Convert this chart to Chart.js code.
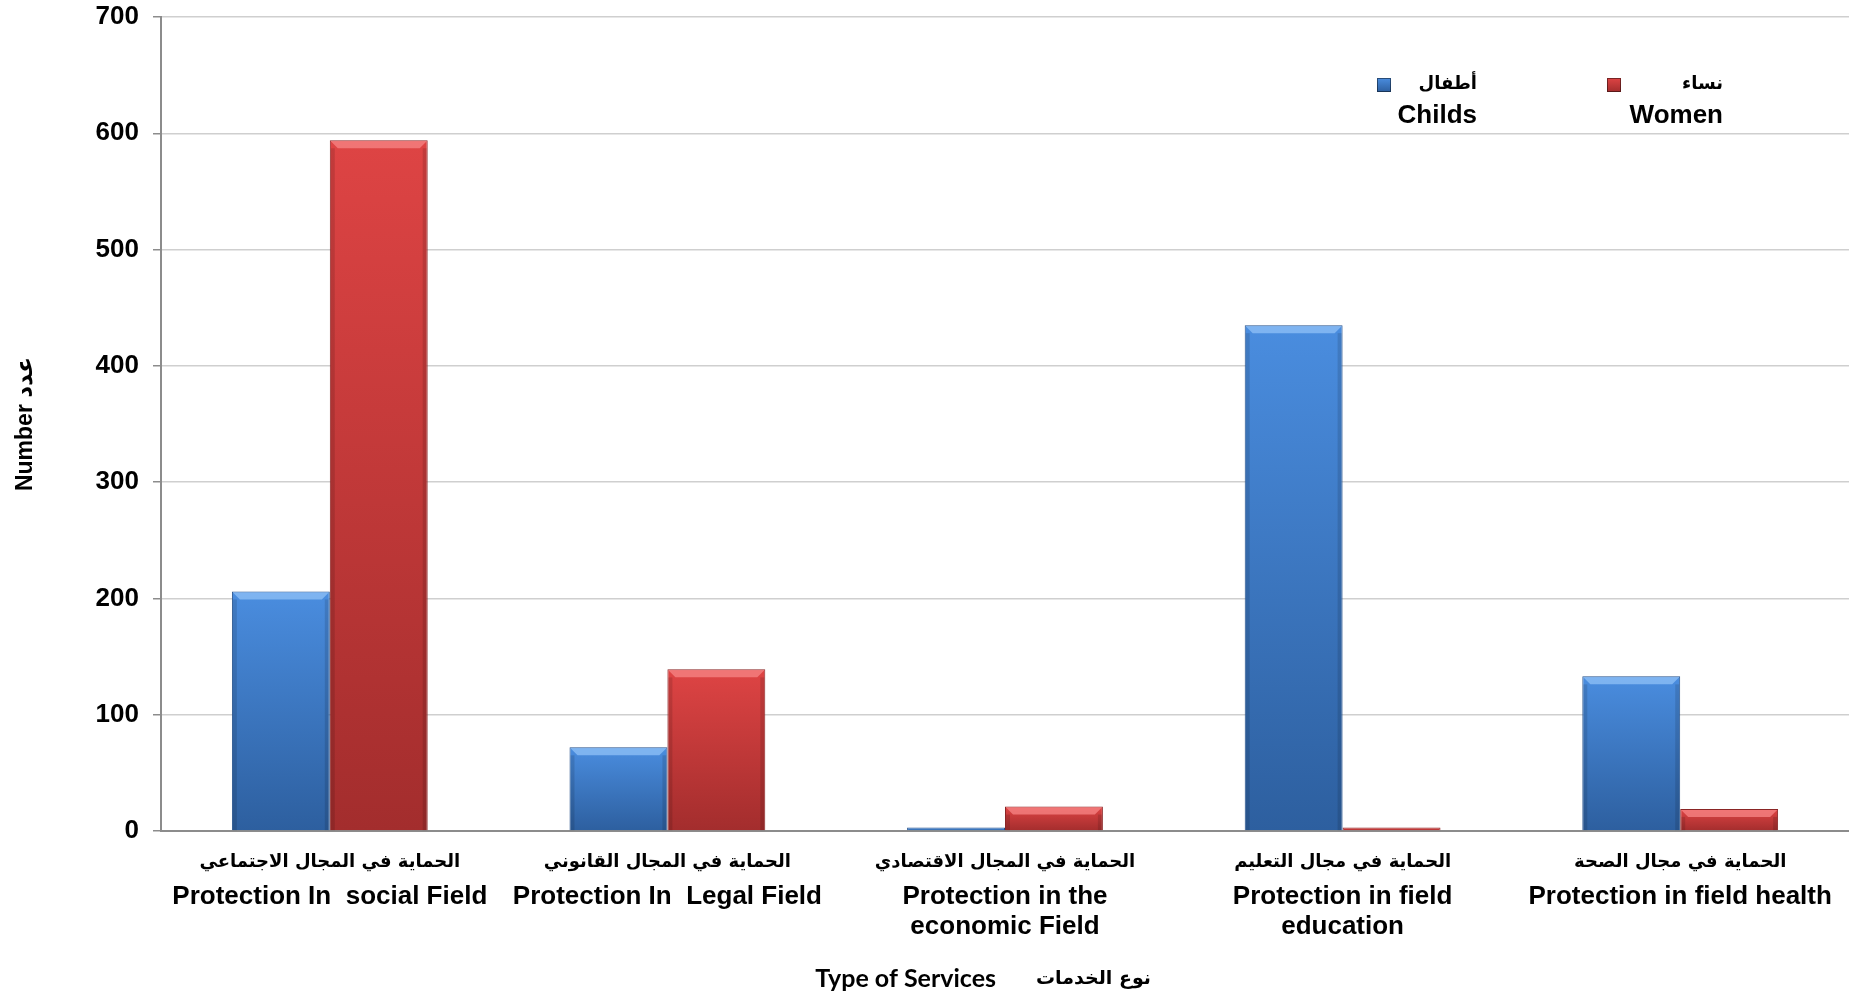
<!DOCTYPE html>
<html>
<head>
<meta charset="utf-8">
<script src="https://cdn.jsdelivr.net/npm/chart.js@4.4.1/dist/chart.umd.min.js"></script>
<style>
  body { margin: 0; background: #fff; }
  #wrap { width: 1849px; height: 996px; position: relative; }
</style>
</head>
<body>
<div id="wrap"><canvas id="services-chart"></canvas></div>
<script>
// --- chart data --- //
const labelsAr = [
    "الحماية في المجال الاجتماعي",
    "الحماية في المجال القانوني",
    "الحماية في المجال الاقتصادي",
    "الحماية في مجال التعليم",
    "الحماية في مجال الصحة"
];
const labelsEn = [
    ["Protection In  social Field"],
    ["Protection In  Legal Field"],
    ["Protection in the", "economic Field"],
    ["Protection in field", "education"],
    ["Protection in field health"]
];
const childs = [206, 72, 3, 435, 133];
const women = [594, 139, 21, 3, 19];
const seriesAr = ["أطفال", "نساء"];
const seriesEn = ["Childs", "Women"];
const yTicks = [0, 100, 200, 300, 400, 500, 600, 700];
const xTitleEn = "Type of Services";
const xTitleAr = "نوع الخدمات";

const blueStops = ['#4a8ddf', '#2d5f9f'];
const redStops = ['#de4444', '#a32d2d'];

// vertical gradient for each bar, based on its own height
const barFill = (c, stops) => {
    const chart = c.chart;
    const ys = chart.scales.y;
    if (!ys || !chart.chartArea || c.raw === undefined) return stops[0];
    const top = ys.getPixelForValue(c.raw);
    const bottom = ys.getPixelForValue(0);
    if (!isFinite(top) || bottom - top < 2) return stops[0];
    const g = chart.ctx.createLinearGradient(0, top, 0, bottom);
    g.addColorStop(0, stops[0]);
    g.addColorStop(1, stops[1]);
    return g;
};

// bevel highlight on the bar tops
const bevelPlugin = {
    id: 'bevel',
    afterDatasetsDraw(chart) {
        const ctx = chart.ctx;
        const lights = ['rgba(140,190,245,0.8)', 'rgba(245,130,130,0.8)'];
        chart.data.datasets.forEach((ds, i) => {
            chart.getDatasetMeta(i).data.forEach(bar => {
                const h = bar.base - bar.y;
                if (h < 12) return;
                const l = bar.x - bar.width / 2, r = bar.x + bar.width / 2;
                const b = 8;
                ctx.save();
                ctx.fillStyle = lights[i];
                ctx.beginPath();
                ctx.moveTo(l + 1, bar.y + 1);
                ctx.lineTo(r - 1, bar.y + 1);
                ctx.lineTo(r - b, bar.y + b);
                ctx.lineTo(l + b, bar.y + b);
                ctx.closePath();
                ctx.fill();
                // darker side edges
                ctx.fillStyle = 'rgba(0,0,0,0.12)';
                ctx.fillRect(l + 1, bar.y + b, 4, h - b);
                ctx.fillRect(r - 5, bar.y + b, 4, h - b);
                ctx.restore();
            });
        });
    }
};

// arabic line above each english category label + the x axis title
const arabicLabels = {
    id: 'arabicLabels',
    afterDraw(chart) {
        const ctx = chart.ctx;
        const xs = chart.scales.x;
        ctx.save();
        ctx.font = 'bold 18px "DejaVu Sans", sans-serif';
        ctx.fillStyle = '#000';
        ctx.textAlign = 'center';
        ctx.textBaseline = 'middle';
        labelsAr.forEach((t, i) => {
            ctx.fillText(t, xs.getPixelForTick(i), 862);
        });
        // axis title, english part then arabic part
        ctx.textAlign = 'right';
        ctx.font = 'bold 25px Lato, sans-serif';
        ctx.fillText(xTitleEn, 996, 979);
        ctx.textAlign = 'left';
        ctx.font = 'bold 19px "DejaVu Sans", sans-serif';
        ctx.fillText(xTitleAr, 1036, 979);
        ctx.restore();
    }
};

// legend drawn inside the plot area, top right
const cornerLegend = {
    id: 'cornerLegend',
    afterDraw(chart) {
        const ctx = chart.ctx;
        const textRight = [1477, 1723];
        const boxLeft = [1377, 1607];
        const stops = [blueStops, redStops];
        ctx.save();
        ctx.textAlign = 'right';
        ctx.textBaseline = 'middle';
        textRight.forEach((xr, i) => {
            ctx.fillStyle = '#000';
            ctx.font = 'bold 18px "DejaVu Sans", sans-serif';
            ctx.fillText(seriesAr[i], xr, 84);
            ctx.font = 'bold 26px "Liberation Sans", Arial, sans-serif';
            ctx.fillText(seriesEn[i], xr, 116);
            const bx = boxLeft[i], by = 78;
            const g = ctx.createLinearGradient(0, by, 0, by + 14);
            g.addColorStop(0, stops[i][0]);
            g.addColorStop(1, stops[i][1]);
            ctx.fillStyle = g;
            ctx.fillRect(bx, by, 14, 14);
            ctx.strokeStyle = 'rgba(0,0,0,0.45)';
            ctx.lineWidth = 1;
            ctx.strokeRect(bx + 0.5, by + 0.5, 13, 13);
        });
        ctx.restore();
    }
};

const servicesCanvas = document.getElementById('services-chart');

const servicesData = {
    labels: labelsEn,
    datasets: [{
        label: seriesEn[0],
        data: childs,
        backgroundColor: c => barFill(c, blueStops),
        borderColor: '#24508a',
        borderWidth: 1
    }, {
        label: seriesEn[1],
        data: women,
        backgroundColor: c => barFill(c, redStops),
        borderColor: '#8a2525',
        borderWidth: 1
    }]
};

const servicesOptions = {
    responsive: true,
    maintainAspectRatio: false,
    animation: false,
    layout: {
        padding: { top: 17, right: 0, left: 0, bottom: 0 }
    },
    datasets: {
        bar: {
            categoryPercentage: 0.58,
            barPercentage: 1.0
        }
    },
    scales: {
        x: {
            grid: { display: false },
            border: { color: '#8c8c8c', width: 2 },
            ticks: {
                color: '#000',
                padding: 42,
                maxRotation: 0,
                autoSkip: false,
                font: { family: '"Liberation Sans", Arial, sans-serif', size: 26, weight: 'bold', lineHeight: 1.18 }
            },
            title: { display: false },
            afterFit: scale => {
                scale.height = 165;
                scale.paddingLeft = 0;
                scale.paddingRight = 0;
            }
        },
        y: {
            min: 0,
            max: 700,
            afterBuildTicks: scale => { scale.ticks = yTicks.map(v => ({ value: v })); },
            grid: { color: '#cfcfcf', lineWidth: 1.5, tickLength: 8, tickColor: '#8c8c8c' },
            border: { color: '#8c8c8c', width: 2 },
            ticks: {
                color: '#000',
                padding: 14,
                font: { family: '"Liberation Sans", Arial, sans-serif', size: 26, weight: 'bold' }
            },
            title: {
                display: true,
                text: 'Number عدد',
                color: '#000',
                font: { family: '"Liberation Sans", "DejaVu Sans", sans-serif', size: 23, weight: 'bold' },
                padding: { top: 12, bottom: 0 }
            },
            afterFit: scale => {
                scale.width = 161;
                scale.paddingTop = 0;
            }
        }
    },
    plugins: {
        legend: { display: false },
        tooltip: { enabled: false }
    }
};

let servicesChart = new Chart(servicesCanvas, {
    type: 'bar',
    data: servicesData,
    options: servicesOptions,
    plugins: [bevelPlugin, arabicLabels, cornerLegend]
});
</script>
</body>
</html>
